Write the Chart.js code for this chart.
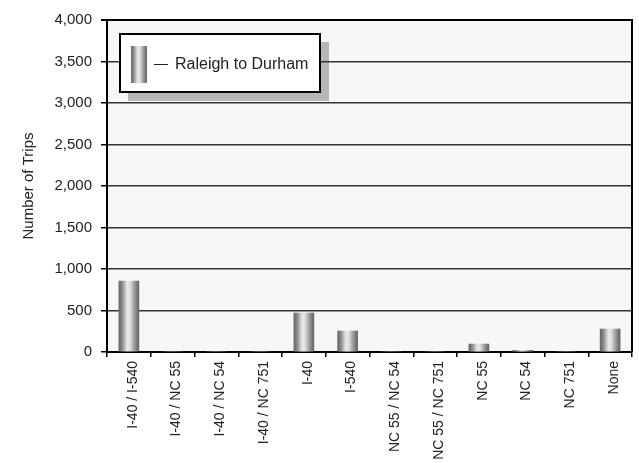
<!DOCTYPE html>
<html>
<head>
<meta charset="utf-8">
<script src="https://cdn.jsdelivr.net/npm/chart.js@4/dist/chart.umd.min.js"></script>
<style>
  html, body { margin: 0; padding: 0; background: #ffffff; }
  #wrap { width: 639px; height: 463px; position: relative; }
</style>
</head>
<body>
<div id="wrap"><canvas id="c" width="639" height="463"></canvas></div>
<script>
// Trip counts by route, Raleigh to Durham
const routes = ['I-40 / I-540', 'I-40 / NC 55', 'I-40 / NC 54', 'I-40 / NC 751', 'I-40', 'I-540',
                'NC 55 / NC 54', 'NC 55 / NC 751', 'NC 55', 'NC 54', 'NC 751', 'None'];
const raleighToDurham = [855, 0, 0, 0, 470, 253, 0, 0, 96, 20, 0, 277];
const seriesName = 'Raleigh to Durham';
const yTicks = [0, 500, 1000, 1500, 2000, 2500, 3000, 3500, 4000];

const FONT = "'Liberation Sans', Arial, sans-serif";
const BAR_W = 20;

// cylinder-like shading across a bar
function barGradient(c, x0, x1) {
  const g = c.createLinearGradient(x0, 0, x1, 0);
  g.addColorStop(0.00, '#686868');
  g.addColorStop(0.10, '#7a7a7a');
  g.addColorStop(0.22, '#9c9c9c');
  g.addColorStop(0.32, '#c6c6c6');
  g.addColorStop(0.42, '#e8e8e8');
  g.addColorStop(0.52, '#e4e4e4');
  g.addColorStop(0.62, '#cccccc');
  g.addColorStop(0.74, '#a6a6a6');
  g.addColorStop(0.86, '#858585');
  g.addColorStop(1.00, '#656565');
  return g;
}

// plot background, frame and the floating legend box
const frame = {
  id: 'frame',
  beforeDraw(chart) {
    const { ctx, chartArea: a } = chart;
    ctx.save();
    ctx.fillStyle = '#f7f7f7';
    ctx.fillRect(a.left, a.top, a.right - a.left, a.bottom - a.top);
    // legend shadow sits under the grid lines
    ctx.fillStyle = '#b6b6b6';
    ctx.fillRect(128, 42, 201, 59);
    ctx.restore();
  },
  afterDraw(chart) {
    const { ctx, chartArea: a } = chart;
    ctx.save();
    // top and right frame
    ctx.strokeStyle = '#000';
    ctx.lineWidth = 2;
    ctx.beginPath();
    ctx.moveTo(a.left - 6, a.top);
    ctx.lineTo(a.right, a.top);
    ctx.lineTo(a.right, a.bottom);
    ctx.stroke();

    // legend box
    ctx.fillStyle = '#ffffff';
    ctx.fillRect(120, 34, 200, 58);
    ctx.lineWidth = 2;
    ctx.strokeRect(120, 34, 200, 58);
    ctx.fillStyle = barGradient(ctx, 131, 147);
    ctx.fillRect(131, 46, 16, 37);
    ctx.strokeStyle = '#222';
    ctx.lineWidth = 1;
    ctx.beginPath();
    ctx.moveTo(154, 64.5);
    ctx.lineTo(168, 64.5);
    ctx.stroke();
    ctx.fillStyle = '#222';
    ctx.font = '16px ' + FONT;
    ctx.textBaseline = 'middle';
    ctx.textAlign = 'left';
    ctx.fillText(chart.data.datasets[0].label, 175, 65);
    ctx.restore();
  }
};

new Chart(document.getElementById('c'), {
  type: 'bar',
  data: {
    labels: routes,
    datasets: [{
      label: seriesName,
      data: raleighToDurham,
      barThickness: BAR_W,
      borderWidth: 0,
      backgroundColor: (ctx) => {
        const chart = ctx.chart;
        const x = chart.scales && chart.scales.x;
        if (!x || ctx.type !== 'data') return '#999';
        const cx = x.getPixelForValue(ctx.dataIndex);
        if (!isFinite(cx)) return '#999';
        return barGradient(chart.ctx, cx - BAR_W / 2, cx + BAR_W / 2);
      }
    }]
  },
  options: {
    responsive: false,
    animation: false,
    events: [],
    layout: { padding: { top: 20, right: 7, left: 0, bottom: 0 } },
    plugins: { legend: { display: false }, tooltip: { enabled: false } },
    scales: {
      x: {
        offset: true,
        grid: { display: true, offset: true, drawOnChartArea: false, color: '#000', tickLength: 5, lineWidth: 1.5 },
        border: { color: '#000', width: 2 },
        ticks: {
          color: '#222',
          font: { family: FONT, size: 14 },
          minRotation: 90, maxRotation: 90,
          padding: 4,
          labelOffset: 4,
          autoSkip: false
        },
        afterFit(s) { s.height = 111; }
      },
      y: {
        min: 0, max: 4000,
        afterBuildTicks(s) { s.ticks = yTicks.map(v => ({ value: v })); },
        grid: { color: '#333', lineWidth: 1.5, tickLength: 6, drawTicks: true, tickColor: '#000' },
        border: { color: '#000', width: 2 },
        ticks: {
          color: '#222',
          font: { family: FONT, size: 15 },
          padding: 9,
          callback: (v) => v.toLocaleString('en-US')
        },
        title: {
          display: true,
          text: 'Number of Trips',
          color: '#222',
          font: { family: FONT, size: 15 },
          padding: { top: 20, bottom: 0 }
        },
        afterFit(s) { s.width = 107; }
      }
    }
  },
  plugins: [frame]
});
</script>
</body>
</html>
